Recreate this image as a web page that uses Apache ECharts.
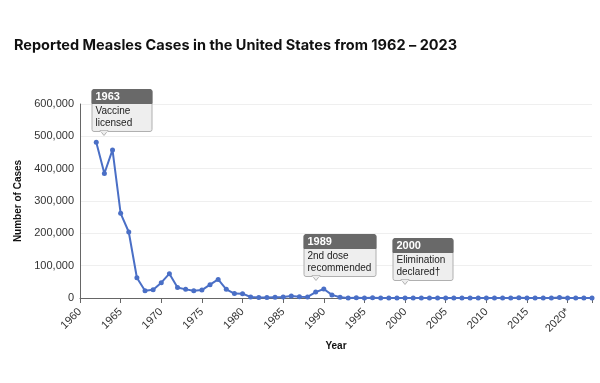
<!DOCTYPE html>
<html><head><meta charset="utf-8">
<script src="https://cdn.jsdelivr.net/npm/echarts@6/dist/echarts.min.js"></script>
<style>html,body{margin:0;padding:0;background:#fff}#c{width:600px;height:383px}</style>
</head><body><div id="c"></div>
<script>
const years = [1962,1963,1964,1965,1966,1967,1968,1969,1970,1971,1972,1973,1974,1975,1976,1977,1978,1979,1980,1981,1982,1983,1984,1985,1986,1987,1988,1989,1990,1991,1992,1993,1994,1995,1996,1997,1998,1999,2000,2001,2002,2003,2004,2005,2006,2007,2008,2009,2010,2011,2012,2013,2014,2015,2016,2017,2018,2019,2020,2021,2022,2023];
const cases = [481530,385156,458083,261904,204136,62705,22231,25826,47351,75290,32275,26690,22094,24374,41126,57345,26871,13597,13506,3124,1714,1497,2587,2822,6282,3655,3396,18193,27786,9643,2237,312,963,309,508,138,100,100,86,116,44,56,37,66,55,43,140,71,63,220,55,187,667,188,86,120,375,1274,13,49,121,59];
const yTicks = [0,100000,200000,300000,400000,500000,600000];
const xTickLabels = {1960:'1960',1965:'1965',1970:'1970',1975:'1975',1980:'1980',1985:'1985',1990:'1990',1995:'1995',2000:'2000',2005:'2005',2010:'2010',2015:'2015',2020:'2020*'};
const annoYears = [1963, 1989, 2000];
const annoAnchor = [505000, 57000, 44000];
const annoTitles = ['1963','1989','2000'];
const annoTexts = [['Vaccine','licensed'],['2nd dose','recommended'],['Elimination','declared\u2020']];

const chart = echarts.init(document.getElementById('c'), null, {renderer:'canvas'});
const FONT = '"Liberation Sans", Arial, Helvetica, sans-serif';
chart.setOption({
  animation:false,
  title:{text:'Reported Measles Cases in the United States from 1962 \u2013 2023', left:9, top:33,
    textStyle:{fontFamily:'Inter, "Liberation Sans", sans-serif', fontSize:14.5, fontWeight:'bold', color:'#111'}},
  grid:{left:80, right:8, top:104, bottom:85},
  xAxis:{type:'value', min:1960, max:2023, interval:5,
    name:'Year', nameLocation:'middle', nameGap:42,
    nameTextStyle:{fontFamily:FONT, fontSize:10, fontWeight:'bold', color:'#111'},
    axisLine:{lineStyle:{color:'#666'}},
    axisTick:{show:true, length:5, lineStyle:{color:'#666'}},
    splitLine:{show:false},
    axisLabel:{rotate:45, fontFamily:FONT, fontSize:11, color:'#333', margin:12,
      formatter:v=>xTickLabels[v]||''}},
  yAxis:{type:'value', min:0, max:600000, interval:100000,
    name:'Number of Cases', nameLocation:'middle', nameGap:54,
    nameTextStyle:{fontFamily:FONT, fontSize:10, fontWeight:'bold', color:'#111'},
    axisLine:{show:true, lineStyle:{color:'#666'}},
    axisTick:{show:false},
    splitLine:{lineStyle:{color:'#efefef'}},
    axisLabel:{fontFamily:FONT, fontSize:11, color:'#333', margin:6,
      formatter:v=>yTicks.includes(v)?v.toLocaleString('en-US'):''}},
  series:[{type:'line', data:years.map((y,i)=>[y,cases[i]]),
    symbol:'circle', symbolSize:5, showSymbol:true,
    lineStyle:{color:'#4a6fc6', width:2}, itemStyle:{color:'#4a6fc6'}}]
});

const ctx = document.createElement('canvas').getContext('2d');
const bodyFont = '10px ' + FONT;
ctx.font = bodyFont;
const graphics = [];
annoYears.forEach((yr,i)=>{
  const p = chart.convertToPixel({gridIndex:0},[yr, annoAnchor[i]]);
  const tipX = Math.round(p[0]), tipY = Math.round(p[1]);
  const tw = Math.max(...annoTexts[i].map(t=>ctx.measureText(t).width));
  const w = Math.max(60, Math.round(tw + 8));
  const headH = 14, bodyH = 28;
  const left = tipX - 12.5, bottom = tipY - 4;
  const top = bottom - headH - bodyH;
  graphics.push({type:'rect', shape:{x:left+0.5, y:top+0.5, width:w, height:headH+bodyH, r:2},
    style:{fill:'#eeeeee', stroke:'#b0b0b0', lineWidth:1}, z:100});
  graphics.push({type:'rect', shape:{x:left+0.5, y:top+0.5, width:w, height:headH, r:[2,2,0,0]},
    style:{fill:'#696969', stroke:'#696969', lineWidth:1}, z:101});
  graphics.push({type:'polygon', shape:{points:[[tipX-4, bottom+0.5-1],[tipX+4, bottom+0.5-1],[tipX, bottom+4.5]]},
    style:{fill:'#eeeeee', stroke:'#b0b0b0', lineWidth:1}, z:100});
  graphics.push({type:'polyline', shape:{points:[[tipX-3.5, bottom+0.5],[tipX+3.5, bottom+0.5]]},
    style:{stroke:'#eeeeee', lineWidth:1.5}, z:101});
  graphics.push({type:'text', x:left+4, y:top+2, z:102,
    style:{text:annoTitles[i], fill:'#fff', font:'bold 11px '+FONT, textVerticalAlign:'top'}});
  graphics.push({type:'text', x:left+4, y:top+headH+2, z:102,
    style:{text:annoTexts[i].join('\n'), fill:'#222', font:bodyFont, lineHeight:12, textVerticalAlign:'top'}});
});
chart.setOption({graphic:graphics});
</script></body></html>
